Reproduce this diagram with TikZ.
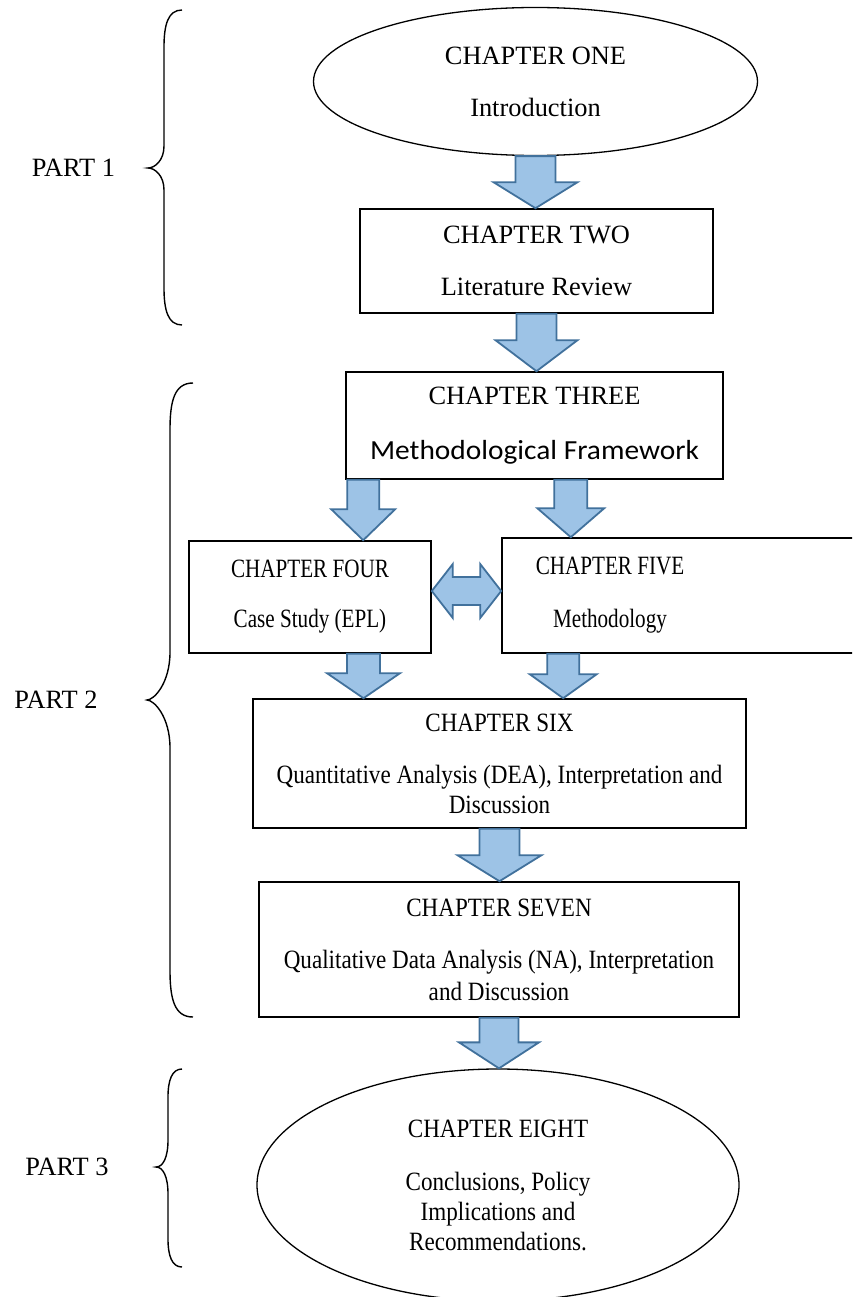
\documentclass[tikz,border=0pt]{standalone}
\usepackage{fontspec}
\setmainfont{Liberation Serif}
\newfontfamily\serifnarrow[FakeStretch=0.8]{Liberation Serif}
\newfontfamily\serifslim[FakeStretch=0.875]{Liberation Serif}
\newfontfamily\sanscal[FakeStretch=1.065]{Carlito}
\usetikzlibrary{shapes.geometric,calc}

\definecolor{arrowfill}{RGB}{157,195,230}
\definecolor{arrowline}{RGB}{65,113,156}

\newcommand\diagfont{\fontsize{26.4}{30}\selectfont}

\tikzset{
  chapterbox/.style={draw=black, line width=1.6pt, rectangle, inner sep=0pt, align=center},
  chapteroval/.style={draw=black, line width=1.3pt, ellipse, inner sep=0pt, align=center},
  flowarrow/.style={fill=arrowfill, draw=arrowline, line width=1.8pt, line join=miter},
  partbrace/.style={draw=black, line width=1.4pt},
  partlabel/.style={anchor=base, inner sep=0pt, font=\diagfont},
}

% block arrow pointing down: #1 start, #2 tip, #3 half shaft, #4 half head, #5 head length
\newcommand\flowdown[5]{%
  \draw[flowarrow] let \p1=(#1), \p2=(#2) in
    (\x1-#3pt,\y1) -- (\x1-#3pt,\y2+#5pt) -- (\x1-#4pt,\y2+#5pt) -- (\x1,\y2)
    -- (\x1+#4pt,\y2+#5pt) -- (\x1+#3pt,\y2+#5pt) -- (\x1+#3pt,\y1) -- cycle;}

% double-headed horizontal block arrow: #1 left tip, #2 right tip
\newcommand\flowboth[5]{%
  \draw[flowarrow] let \p1=(#1), \p2=(#2) in
    (\x1,\y1) -- (\x1+#5pt,\y1+#4pt) -- (\x1+#5pt,\y1+#3pt) -- (\x2-#5pt,\y1+#3pt)
    -- (\x2-#5pt,\y1+#4pt) -- (\x2,\y1) -- (\x2-#5pt,\y1-#4pt) -- (\x2-#5pt,\y1-#3pt)
    -- (\x1+#5pt,\y1-#3pt) -- (\x1+#5pt,\y1-#4pt) -- cycle;}

% curly brace opening to the right
% #1 end x, #2 stem x, #3 tip x, #4 top y, #5 tip y, #6 bottom y, #7 end curl, #8 middle curl
\newcommand\partbracket[8]{%
  \draw[partbrace] (#1,#4) .. controls (#2+4,#4) and (#2,#4+#7*0.4) .. (#2,#4+#7)
    -- (#2,#5-#8) .. controls (#2,#5-#8*0.35) and (#3+7,#5) .. (#3,#5)
    .. controls (#3+7,#5) and (#2,#5+#8*0.35) .. (#2,#5+#8)
    -- (#2,#6-#7) .. controls (#2,#6-#7*0.4) and (#2+4,#6) .. (#1,#6);}

\begin{document}
\begin{tikzpicture}[x=1pt,y=-1pt]
\useasboundingbox (0,0) rectangle (852,1297);
\fill[white] (0,0) rectangle (852,1297);
\clip (0,0) rectangle (852,1297);

% chapters
\node[chapteroval, minimum width=444pt, minimum height=148pt, font=\diagfont]
  (e1) at (535.5,81.5) {CHAPTER ONE\\[22pt]Introduction};
\node[chapterbox, minimum width=353pt, minimum height=104pt, font=\diagfont]
  (b2) at (536.5,261) {CHAPTER TWO\\[22pt]Literature Review};
\node[chapterbox, minimum width=377pt, minimum height=107pt, font=\diagfont]
  (b3) at (534.5,425.5) {CHAPTER THREE\\[25pt]{\sanscal\fontsize{27.6}{30}\selectfont Methodological Framework}};
\node[chapterbox, minimum width=242pt, minimum height=112pt, font=\serifnarrow\diagfont]
  (b4) at (310,597) {CHAPTER FOUR\\[20pt]Case Study (EPL)};
\node[chapterbox, minimum width=368pt, minimum height=115pt] (b5) at (686,595.5) {};
\node[inner sep=0pt, align=center, font=\serifnarrow\diagfont]
  (b5text) at (610,595.5) {CHAPTER FIVE\\[23pt]Methodology};
\node[chapterbox, minimum width=493pt, minimum height=129pt, font=\serifslim\diagfont]
  (b6) at (499.5,763.5) {CHAPTER SIX\\[22pt]Quantitative Analysis (DEA), Interpretation and\\Discussion};
\node[chapterbox, minimum width=480pt, minimum height=135pt, font=\serifslim\diagfont]
  (b7) at (499,949.5) {CHAPTER SEVEN\\[22pt]Qualitative Data Analysis (NA), Interpretation\\[2pt]and Discussion};
\node[chapteroval, minimum width=482pt, minimum height=232pt, font=\serifslim\diagfont]
  (e8) at (498,1185) {CHAPTER EIGHT\\[23pt]Conclusions, Policy\\Implications and\\Recommendations.};

% arrow anchors
\coordinate (a3) at ([xshift=18pt]b3.south west);
\coordinate (a4) at ([xshift=-153pt]b3.south east);
\coordinate (a5) at ([xshift=53.5pt]b4.south);
\coordinate (a6) at ([xshift=62pt]b5.south west);
\coordinate (d1) at ([yshift=6pt]b4.east);
\coordinate (d2) at (d1 -| b5.west);

% flow arrows
\flowdown{e1.south}{e1.south |- b2.north}{20}{42}{26}
\flowdown{b2.south}{b2.south |- b3.north}{20}{41}{31}
\flowdown{a3}{a3 |- b4.north}{16}{32}{31}
\flowdown{a4}{a4 |- b5.north}{16.5}{33.5}{29}
\flowdown{a5}{a5 |- b6.north}{16.5}{36.5}{25}
\flowdown{a6}{a6 |- b6.north}{16}{33.5}{24}
\flowdown{b6.south}{b6.south |- b7.north}{20}{42}{26}
\flowdown{b7.south}{b7.south |- e8.north}{19.5}{40}{26}
\flowboth{d1}{d2}{14}{27}{21}

% parts
\partbracket{182}{164}{148}{10}{168}{325}{37}{22}
\node[partlabel] (p1) at (73.5,177) {PART 1};
\partbracket{193}{170}{147}{383}{700}{1017}{47}{48}
\node[partlabel] (p2) at (56,708) {PART 2};
\partbracket{182}{168}{156}{1069}{1167}{1267}{28}{27}
\node[partlabel] (p3) at (67,1175) {PART 3};
\end{tikzpicture}
\end{document}
